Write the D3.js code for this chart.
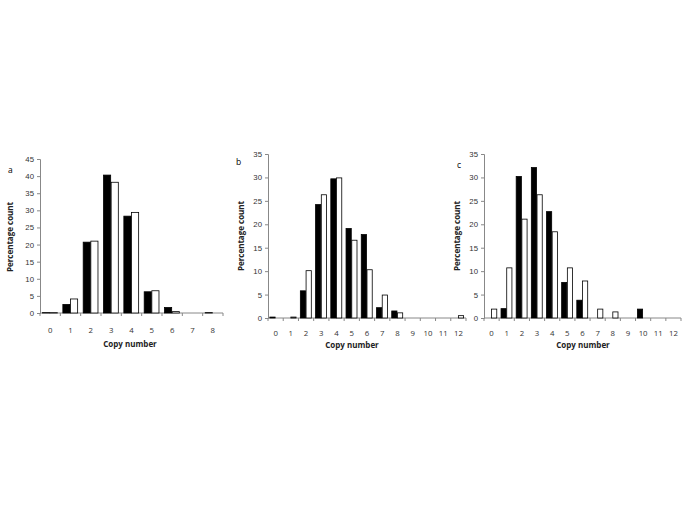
<!DOCTYPE html>
<html>
<head>
<meta charset="utf-8">
<script src="https://cdn.jsdelivr.net/npm/d3@7"></script>
<style>
  body { margin: 0; background: #fff; }
  svg { font-family: "Open Sans", "DejaVu Sans", sans-serif; }
</style>
</head>
<body>
<div id="container"></div>
<script>
// copy number categories
var copiesA = [0, 1, 2, 3, 4, 5, 6, 7, 8]
var copiesBC = [0, 1, 2, 3, 4, 5, 6, 7, 8, 9, 10, 11, 12]

// percentage counts, black and white series
var blackA = [0.1, 2.5, 20.7, 40.3, 28.3, 6.2, 1.6, 0, 0.1]
var whiteA = [0.1, 4.1, 21.0, 38.2, 29.4, 6.5, 0.4, 0, 0]

var blackB = [0.2, 0, 5.8, 24.2, 29.7, 19.1, 17.8, 2.2, 1.5, 0, 0, 0, 0]
var whiteB = [0, 0.2, 10.1, 26.3, 29.9, 16.6, 10.3, 4.9, 1.1, 0, 0, 0, 0.5]

var blackC = [0, 2.0, 30.2, 32.1, 22.7, 7.6, 3.8, 0, 0, 0, 1.9, 0, 0]
var whiteC = [1.9, 10.7, 21.1, 26.3, 18.4, 10.7, 7.9, 1.9, 1.3, 0, 0, 0, 0]

var ticksA = d3.range(0, 46, 5)
var ticksBC = d3.range(0, 36, 5)

var svg = d3.select("#container")
  .append("svg")
  .attr("width", 685)
  .attr("height", 513)

// one panel of the figure
function drawPanel(p) {
  var x = d3.scaleBand()
    .domain(p.cats)
    .range([p.x0, p.x1])

  var sub = d3.scaleBand()
    .domain(["black", "white"])
    .range([0, x.bandwidth()])
    .paddingOuter(0.33)

  var y = d3.scaleLinear()
    .domain([0, p.ymax])
    .range([p.y0, p.y1])

  var g = svg.append("g")

  // y axis
  var yAxis = g.append("g")
    .attr("transform", "translate(" + p.x0 + ",0)")
    .call(d3.axisLeft(y).tickValues(p.yticks).tickSize(3).tickPadding(3))
  yAxis.select(".domain").attr("stroke", "#888")
  yAxis.selectAll(".tick line").attr("stroke", "#888")
  yAxis.selectAll("text").style("font-size", "7.8px").attr("fill", "#333")

  // x axis, ticks at band boundaries
  var xAxis = g.append("g")
    .attr("transform", "translate(0," + p.y0 + ")")
  xAxis.append("line")
    .attr("x1", p.x0).attr("x2", p.x1)
    .attr("stroke", "#888")
  xAxis.selectAll(".bound")
    .data(d3.range(p.cats.length + 1))
    .enter()
    .append("line")
    .attr("x1", function(i) { return p.x0 + i * x.step() })
    .attr("x2", function(i) { return p.x0 + i * x.step() })
    .attr("y1", 0).attr("y2", 3)
    .attr("stroke", "#888")
  xAxis.selectAll("text")
    .data(p.cats)
    .enter()
    .append("text")
    .attr("x", function(d) { return x(d) + x.bandwidth() / 2 })
    .attr("y", p.labelY - p.y0)
    .attr("text-anchor", "middle")
    .style("font-size", "7.8px")
    .attr("fill", "#333")
    .text(function(d) { return d })

  // bars
  var series = [["black", p.black], ["white", p.white]]
  series.forEach(function(s) {
    var rows = p.cats.map(function(c, i) { return { cat: c, v: s[1][i] } })
      .filter(function(d) { return d.v > 0 })
    g.selectAll(".bar-" + s[0])
      .data(rows)
      .enter()
      .append("rect")
      .attr("x", function(d) { return x(d.cat) + sub(s[0]) })
      .attr("y", function(d) { return y(d.v) })
      .attr("width", sub.bandwidth() - 0.5)
      .attr("height", function(d) { return p.y0 - y(d.v) })
      .attr("fill", s[0] == "black" ? "#000" : "#fff")
      .attr("stroke", "#000")
      .attr("stroke-width", 0.8)
  })

  // labels
  g.append("text")
    .attr("x", p.letter[0]).attr("y", p.letter[1])
    .style("font-size", "8.5px")
    .text(p.name)

  g.append("text")
    .attr("transform", "translate(" + p.ylab[0] + "," + p.ylab[1] + ") rotate(-90)")
    .attr("text-anchor", "middle")
    .style("font-size", "8px")
    .style("font-weight", "bold")
    .attr("fill", "#222")
    .text("Percentage count")

  g.append("text")
    .attr("x", p.xlab[0]).attr("y", p.xlab[1])
    .attr("text-anchor", "middle")
    .style("font-size", "8px")
    .style("font-weight", "bold")
    .attr("fill", "#222")
    .text("Copy number")
}

drawPanel({ name: "a", cats: copiesA, black: blackA, white: whiteA,
  ymax: 45, yticks: ticksA, x0: 40, x1: 223, y0: 313, y1: 159,
  labelY: 333, letter: [8, 173], ylab: [13, 237], xlab: [130, 347] })

drawPanel({ name: "b", cats: copiesBC, black: blackB, white: whiteB,
  ymax: 35, yticks: ticksBC, x0: 268, x1: 466, y0: 318, y1: 154,
  labelY: 336, letter: [236, 165], ylab: [244, 236], xlab: [352, 348] })

drawPanel({ name: "c", cats: copiesBC, black: blackC, white: whiteC,
  ymax: 35, yticks: ticksBC, x0: 484, x1: 681, y0: 318, y1: 154,
  labelY: 336, letter: [457, 168], ylab: [460, 236], xlab: [583, 348] })
</script>
</body>
</html>
